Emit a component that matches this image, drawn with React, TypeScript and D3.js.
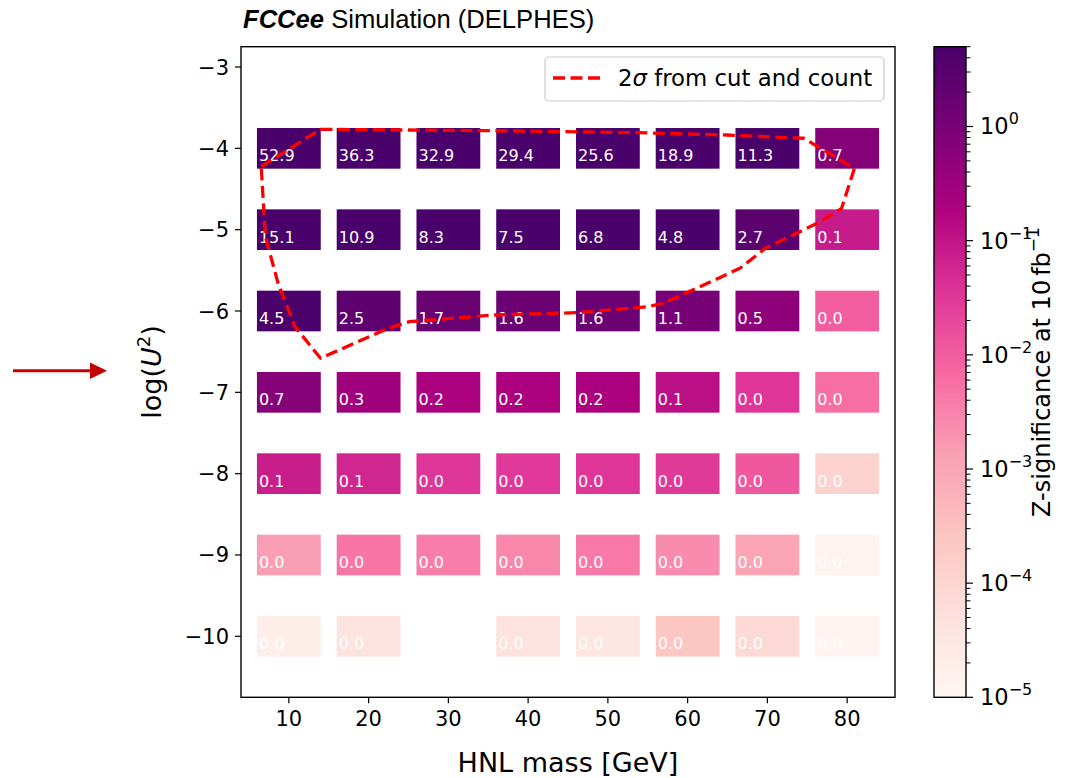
import React from "react";
import * as d3 from "d3";

// ---- data ----
const massValues = [10, 20, 30, 40, 50, 60, 70, 80];
const logU2Values = [-4, -5, -6, -7, -8, -9, -10];
const zRowM4 = [52.9, 36.3, 32.9, 29.4, 25.6, 18.9, 11.3, 0.7];
const zRowM5 = [15.1, 10.9, 8.3, 7.5, 6.8, 4.8, 2.7, 0.08];
const zRowM6 = [4.5, 2.5, 1.7, 1.6, 1.6, 1.1, 0.5, 0.01];
const zRowM7 = [0.7, 0.3, 0.2, 0.2, 0.2, 0.12, 0.035, 0.006];
const zRowM8 = [0.075, 0.058, 0.034, 0.032, 0.035, 0.03, 0.012, 0.00012];
const zRowM9 = [0.0014, 0.0048, 0.0037, 0.0028, 0.0042, 0.0025, 0.0011, 0.000013];
const zRowM10 = [0.000019, 0.000042, null, 0.000045, 0.000033, 0.00023, 0.00008, 0.000012];
const zRows = [zRowM4, zRowM5, zRowM6, zRowM7, zRowM8, zRowM9, zRowM10];

const xTicks = [10, 20, 30, 40, 50, 60, 70, 80];
const yTicks = [-3, -4, -5, -6, -7, -8, -9, -10];
const cbarExponents = [-5, -4, -3, -2, -1, 0];

const contourMass = [6.53, 13.97, 35.72, 53.77, 64.93, 74.54, 80.91, 79.31, 76.66, 69.75, 66.56, 57.0, 54.88, 46.38, 35.72, 25.13, 22.47, 13.97, 10.77, 8.64, 7.06, 6.53];
const contourLogU2 = [-4.225, -3.766, -3.783, -3.807, -3.836, -3.876, -4.245, -4.737, -4.902, -5.229, -5.475, -5.905, -5.947, -6.02, -6.049, -6.131, -6.212, -6.581, -6.193, -5.655, -5.086, -4.225];

const rdPuColors = ["#fff7f3", "#fde0dd", "#fcc5c0", "#fa9fb5", "#f768a1", "#dd3497", "#ae017e", "#7a0177", "#49006a"];

// ---- layout ----
const W = 1068, H = 778;
const L = 241, R = 895, T = 46.7, B = 697.3;
const CBL = 934, CBR = 966;
const ZMIN = 1e-5, ZMAX = 5;
const FONT = "'DejaVu Sans', sans-serif";

export default function App() {
  const x = d3.scaleLinear().domain([4, 86]).range([L, R]);
  const y = d3.scaleLinear().domain([-10.75, -2.75]).range([B, T]);
  const tScale = d3.scaleLog().domain([ZMIN, ZMAX]).range([0, 1]).clamp(true);
  const cmap = d3
    .scaleLinear<string>()
    .domain(rdPuColors.map((_, i) => i / (rdPuColors.length - 1)))
    .range(rdPuColors)
    .interpolate(d3.interpolateRgb);
  const cb = d3.scaleLog().domain([ZMIN, ZMAX]).range([B, T]);

  const cells: { m: number; u: number; z: number }[] = [];
  logU2Values.forEach((u, ri) => {
    massValues.forEach((m, ci) => {
      const z = zRows[ri][ci];
      if (z !== null && z !== undefined) cells.push({ m, u, z });
    });
  });

  const line = d3
    .line<number>()
    .x((_, i) => x(contourMass[i]))
    .y((_, i) => y(contourLogU2[i]));
  const contourPath = line(contourMass) || "";

  const minorTicks: number[] = [];
  cbarExponents.forEach((e) => {
    for (let k = 2; k <= 9; k++) {
      const v = k * Math.pow(10, e);
      if (v <= ZMAX) minorTicks.push(v);
    }
  });

  return (
    <svg width={W} height={H} style={{ position: "absolute", left: 0, top: 0, background: "#fff" }} fontFamily={FONT}>
      <defs>
        <linearGradient id="cbgrad" x1="0" y1="1" x2="0" y2="0">
          {rdPuColors.map((c, i) => (
            <stop key={i} offset={i / (rdPuColors.length - 1)} stopColor={c} />
          ))}
        </linearGradient>
      </defs>

      {/* title */}
      <text x={243} y={28} fontFamily="'Liberation Sans', Arial, sans-serif" fontSize={25.6} fill="#000">
        <tspan fontWeight="bold" fontStyle="italic">FCCee</tspan>
        <tspan> Simulation (DELPHES)</tspan>
      </text>

      {/* cells */}
      {cells.map((c, i) => (
        <g key={i}>
          <rect
            x={x(c.m - 4)}
            y={y(c.u + 0.25)}
            width={x(c.m + 4) - x(c.m - 4)}
            height={y(c.u - 0.25) - y(c.u + 0.25)}
            fill={cmap(tScale(c.z))}
          />
          <text x={x(c.m - 4) + 2} y={y(c.u) + 13} fontSize={16} fill="#fff">
            {c.z.toFixed(1)}
          </text>
        </g>
      ))}

      {/* contour */}
      <path d={contourPath} fill="none" stroke="#ff0000" strokeWidth={3.3} strokeDasharray="12,5.5" strokeLinejoin="round" />

      {/* frame */}
      <rect x={L} y={T} width={R - L} height={B - T} fill="none" stroke="#000" strokeWidth={1.4} />

      {/* x ticks */}
      {xTicks.map((t) => (
        <g key={t}>
          <line x1={x(t)} x2={x(t)} y1={B} y2={B + 6} stroke="#000" strokeWidth={1.2} />
          <text x={x(t)} y={B + 29} fontSize={21} textAnchor="middle" fill="#000">
            {t}
          </text>
        </g>
      ))}
      {/* y ticks */}
      {yTicks.map((t) => (
        <g key={t}>
          <line x1={L - 6} x2={L} y1={y(t)} y2={y(t)} stroke="#000" strokeWidth={1.2} />
          <text x={L - 12} y={y(t) + 7.5} fontSize={21} textAnchor="end" fill="#000">
            {"\u2212" + Math.abs(t)}
          </text>
        </g>
      ))}

      {/* axis labels */}
      <text x={(L + R) / 2} y={772} fontSize={27} textAnchor="middle" fill="#000">
        HNL mass [GeV]
      </text>
      <text transform={`translate(161,${(T + B) / 2}) rotate(-90)`} fontSize={27} textAnchor="middle" fill="#000">
        <tspan>log(</tspan>
        <tspan fontStyle="italic">U</tspan>
        <tspan fontSize={18} dy={-11}>2</tspan>
        <tspan dy={11}>)</tspan>
      </text>

      {/* legend */}
      <rect x={545} y={57} width={339} height={44} rx={4} fill="#fff" fillOpacity={0.8} stroke="#cccccc" strokeWidth={1.2} />
      <line x1={553} x2={600} y1={78} y2={78} stroke="#ff0000" strokeWidth={3.3} strokeDasharray="12,5.5" />
      <text x={618} y={86} fontSize={22.8} fill="#000">
        <tspan>2</tspan>
        <tspan fontStyle="italic">σ</tspan>
        <tspan> from cut and count</tspan>
      </text>

      {/* colorbar */}
      <rect x={CBL} y={T} width={CBR - CBL} height={B - T} fill="url(#cbgrad)" stroke="#000" strokeWidth={1.4} />
      {minorTicks.map((v, i) => (
        <line key={"m" + i} x1={CBR} x2={CBR + 4.5} y1={cb(v)} y2={cb(v)} stroke="#000" strokeWidth={1} />
      ))}
      {cbarExponents.map((e) => (
        <g key={e}>
          <line x1={CBR} x2={CBR + 7} y1={cb(Math.pow(10, e))} y2={cb(Math.pow(10, e))} stroke="#000" strokeWidth={1.2} />
          <text x={980} y={cb(Math.pow(10, e)) + 8} fontSize={22.5} fill="#000">
            <tspan>10</tspan>
            <tspan fontSize={16} dy={-10}>{e === 0 ? "0" : "\u2212" + Math.abs(e)}</tspan>
          </text>
        </g>
      ))}
      <text transform={`translate(1050,${(T + B) / 2}) rotate(-90)`} fontSize={24} textAnchor="middle" fill="#000">
        <tspan>Z-significance at 10</tspan>
        <tspan dx={4}>fb</tspan>
        <tspan fontSize={17} dy={-11}>{"\u22121"}</tspan>
      </text>

      {/* annotation arrow */}
      <line x1={13} x2={92} y1={370.7} y2={370.7} stroke="#c40000" strokeWidth={3} />
      <polygon points="90,362.5 107,370.7 90,379" fill="#c40000" />
    </svg>
  );
}
